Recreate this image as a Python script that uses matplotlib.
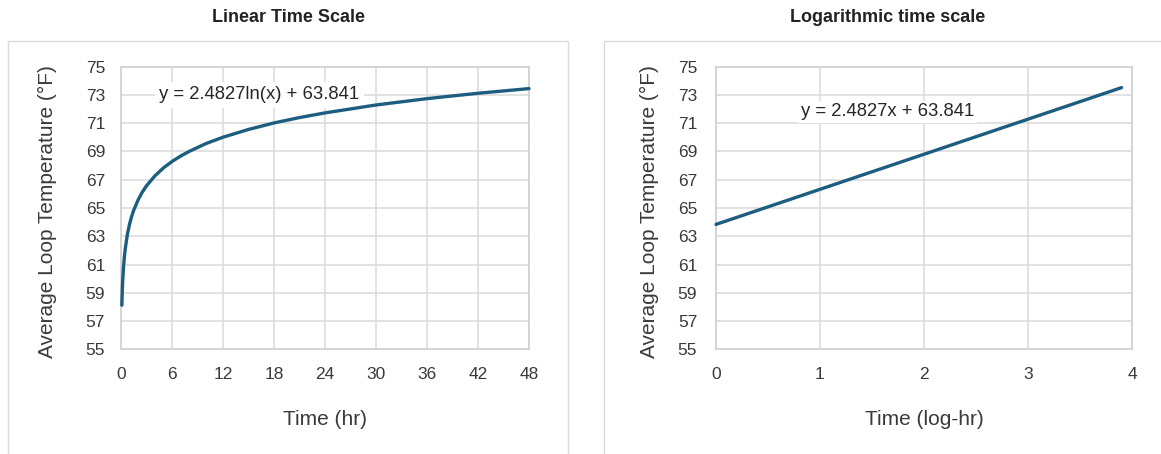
import matplotlib.pyplot as plt
from matplotlib.patches import Rectangle

plt.rcParams['font.family'] = ['Liberation Sans', 'DejaVu Sans']

# trendline values
time_hr = [0.1, 0.15, 0.2, 0.3, 0.4, 0.5, 0.75, 1, 1.25, 1.5, 2, 2.5, 3, 4, 5, 6,
           7, 8, 10, 12, 15, 18, 21, 24, 30, 36, 42, 48]
temp_lin = [58.12, 59.13, 59.85, 60.85, 61.57, 62.12, 63.13, 63.84, 64.40, 64.85,
            65.56, 66.12, 66.57, 67.28, 67.84, 68.29, 68.67, 69.00, 69.56, 70.01,
            70.56, 71.02, 71.40, 71.73, 72.29, 72.74, 73.12, 73.45]

# straight line on the log-time chart
time_log = [0.0, 3.9]
temp_log = [63.84, 73.52]

lin_xticks = [0, 6, 12, 18, 24, 30, 36, 42, 48]
log_xticks = [0, 1, 2, 3, 4]
yticks = [55, 57, 59, 61, 63, 65, 67, 69, 71, 73, 75]

line_color = '#1d5e80'
grid_color = '#dadada'
text_color = '#3a3a3a'

fig = plt.figure(figsize=(11.61, 4.54), dpi=100)
W, H = 1161, 454

# panel frames
fig.add_artist(Rectangle((8.3 / W, -0.02), 560 / W, 1.02 - 40.7 / H,
                         transform=fig.transFigure, fill=False,
                         edgecolor=grid_color, lw=1))
fig.add_artist(Rectangle((604 / W, -0.02), 570 / W, 1.02 - 40.7 / H,
                         transform=fig.transFigure, fill=False,
                         edgecolor=grid_color, lw=1))

fig.text(288.7 / W, 1 - 18 / H, 'Linear Time Scale', ha='center', va='center',
         fontsize=13, fontweight='bold', color='#222222')
fig.text(888 / W, 1 - 18 / H, 'Logarithmic time scale', ha='center', va='center',
         fontsize=13, fontweight='bold', color='#222222')

ax1 = fig.add_axes([121 / W, 1 - 349.3 / H, 408 / W, 282.6 / H])
ax2 = fig.add_axes([716 / W, 1 - 349.3 / H, 416 / W, 282.6 / H])


def style(ax, xticks, ypad):
    ax.set_ylim(55, 75)
    ax.set_yticks(yticks)
    ax.set_xticks(xticks)
    ax.set_xlim(xticks[0], xticks[-1])
    ax.grid(True, color=grid_color, lw=1.1)
    ax.set_axisbelow(True)
    for s in ax.spines.values():
        s.set_color('#d0d0d0')
        s.set_linewidth(1.2)
    ax.tick_params(axis='x', length=0, pad=13, labelsize=12.5, labelcolor=text_color)
    ax.tick_params(axis='y', length=0, pad=ypad, labelsize=12.5, labelcolor=text_color)


# linear time scale
style(ax1, lin_xticks, 11.5)
ax1.plot(time_hr, temp_lin, color=line_color, lw=2.4, solid_capstyle='round',
         solid_joinstyle='round', clip_on=False, zorder=3)
ax1.set_xlabel('Time (hr)', fontsize=15, color=text_color)
ax1.set_ylabel('Average Loop Temperature (°F)', fontsize=15, color=text_color, va='center')
ax1.xaxis.set_label_coords(0.501, -0.215)
ax1.yaxis.set_label_coords(-0.179, 0.489)
ax1.text(16.3, 73, 'y = 2.4827ln(x) + 63.841', ha='center', va='center',
         fontsize=13.3, color='#262626', zorder=2.5,
         bbox=dict(facecolor='white', edgecolor='none', pad=3))

# logarithmic time scale
style(ax2, log_xticks, 13.5)
ax2.plot(time_log, temp_log, color=line_color, lw=2.4, solid_capstyle='round',
         clip_on=False, zorder=3)
ax2.set_xlabel('Time (log-hr)', fontsize=15, color=text_color)
ax2.set_ylabel('Average Loop Temperature (°F)', fontsize=15, color=text_color, va='center')
ax2.xaxis.set_label_coords(0.5, -0.215)
ax2.yaxis.set_label_coords(-0.16, 0.489)
ax2.text(1.65, 71.8, 'y = 2.4827x + 63.841', ha='center', va='center',
         fontsize=13.3, color='#262626', zorder=2.5,
         bbox=dict(facecolor='white', edgecolor='none', pad=2))

fig.savefig('out.png', dpi=100)
